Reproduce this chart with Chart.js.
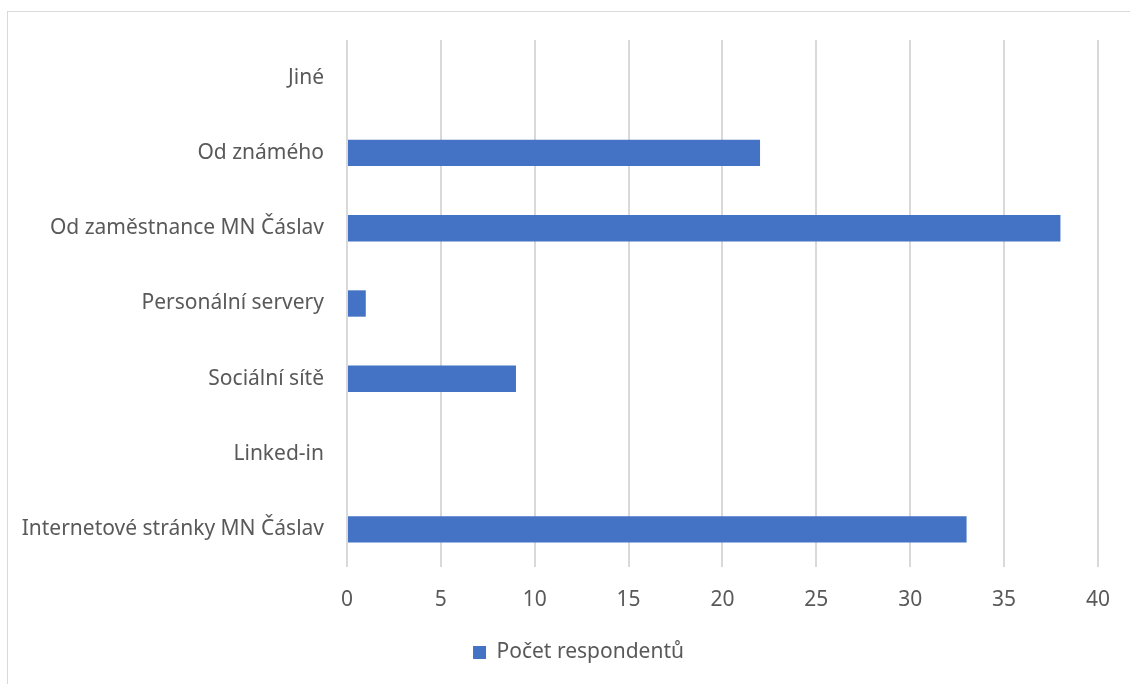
<!DOCTYPE html>
<html>
<head>
<meta charset="utf-8">
<script src="https://cdn.jsdelivr.net/npm/chart.js@4/dist/chart.umd.min.js"></script>
<style>
  html, body { margin: 0; padding: 0; background: #fff; }
  #wrap { position: relative; width: 1130px; height: 684px; overflow: hidden; }
  #frame { position: absolute; left: 7px; top: 11px; width: 1200px; height: 800px; border: 1px solid #d9d9d9; box-sizing: border-box; }
  canvas { position: absolute; left: 0; top: 0; }
</style>
</head>
<body>
<div id="wrap">
  <div id="frame"></div>
  <canvas id="myChart" width="1130" height="684"></canvas>
</div>
<script>
const categories = [
  'Jiné',
  'Od známého',
  'Od zaměstnance MN Čáslav',
  'Personální servery',
  'Sociální sítě',
  'Linked-in',
  'Internetové stránky MN Čáslav',
]
const respondents = [0, 22, 38, 1, 9, 0, 33]
const seriesLabel = 'Počet respondentů'
const xTicks = [0, 5, 10, 15, 20, 25, 30, 35, 40]

const textColor = '#595959'
const gridColor = '#d9d9d9'
const font = { family: "'Noto Sans', sans-serif", size: 21 }

// the original legend is centred a bit right of the canvas middle
const legendShift = {
  id: 'legendShift',
  afterLayout(chart) {
    if (chart.legend) chart.legend.left += 56
  },
}

const ctx = document.getElementById('myChart').getContext('2d')

new Chart(ctx, {
  type: 'bar',
  data: {
    labels: categories,
    datasets: [
      {
        label: seriesLabel,
        data: respondents,
        backgroundColor: '#4472c4',
        borderWidth: 0,
        categoryPercentage: 1,
        barPercentage: 0.35,
      },
    ],
  },
  options: {
    indexAxis: 'y',
    responsive: false,
    animation: false,
    layout: {
      padding: { top: 40, right: 29, bottom: 11, left: 0 },
    },
    scales: {
      x: {
        min: xTicks[0],
        max: xTicks[xTicks.length - 1],
        afterBuildTicks: (scale) => {
          scale.ticks = xTicks.map((v) => ({ value: v }))
        },
        afterFit: (scale) => {
          scale.height = 65
        },
        grid: { color: gridColor, lineWidth: 2, drawTicks: false },
        border: { display: false },
        ticks: { color: textColor, font, padding: 20, maxRotation: 0 },
      },
      y: {
        afterFit: (scale) => {
          scale.width = 347
        },
        grid: { display: false, drawTicks: false },
        border: { display: false },
        ticks: { color: textColor, font, padding: 23 },
      },
    },
    plugins: {
      legend: {
        position: 'bottom',
        labels: {
          color: textColor,
          font,
          boxWidth: 13,
          boxHeight: 13,
          padding: 10,
        },
      },
      tooltip: { enabled: false },
    },
  },
  plugins: [legendShift],
})
</script>
</body>
</html>
